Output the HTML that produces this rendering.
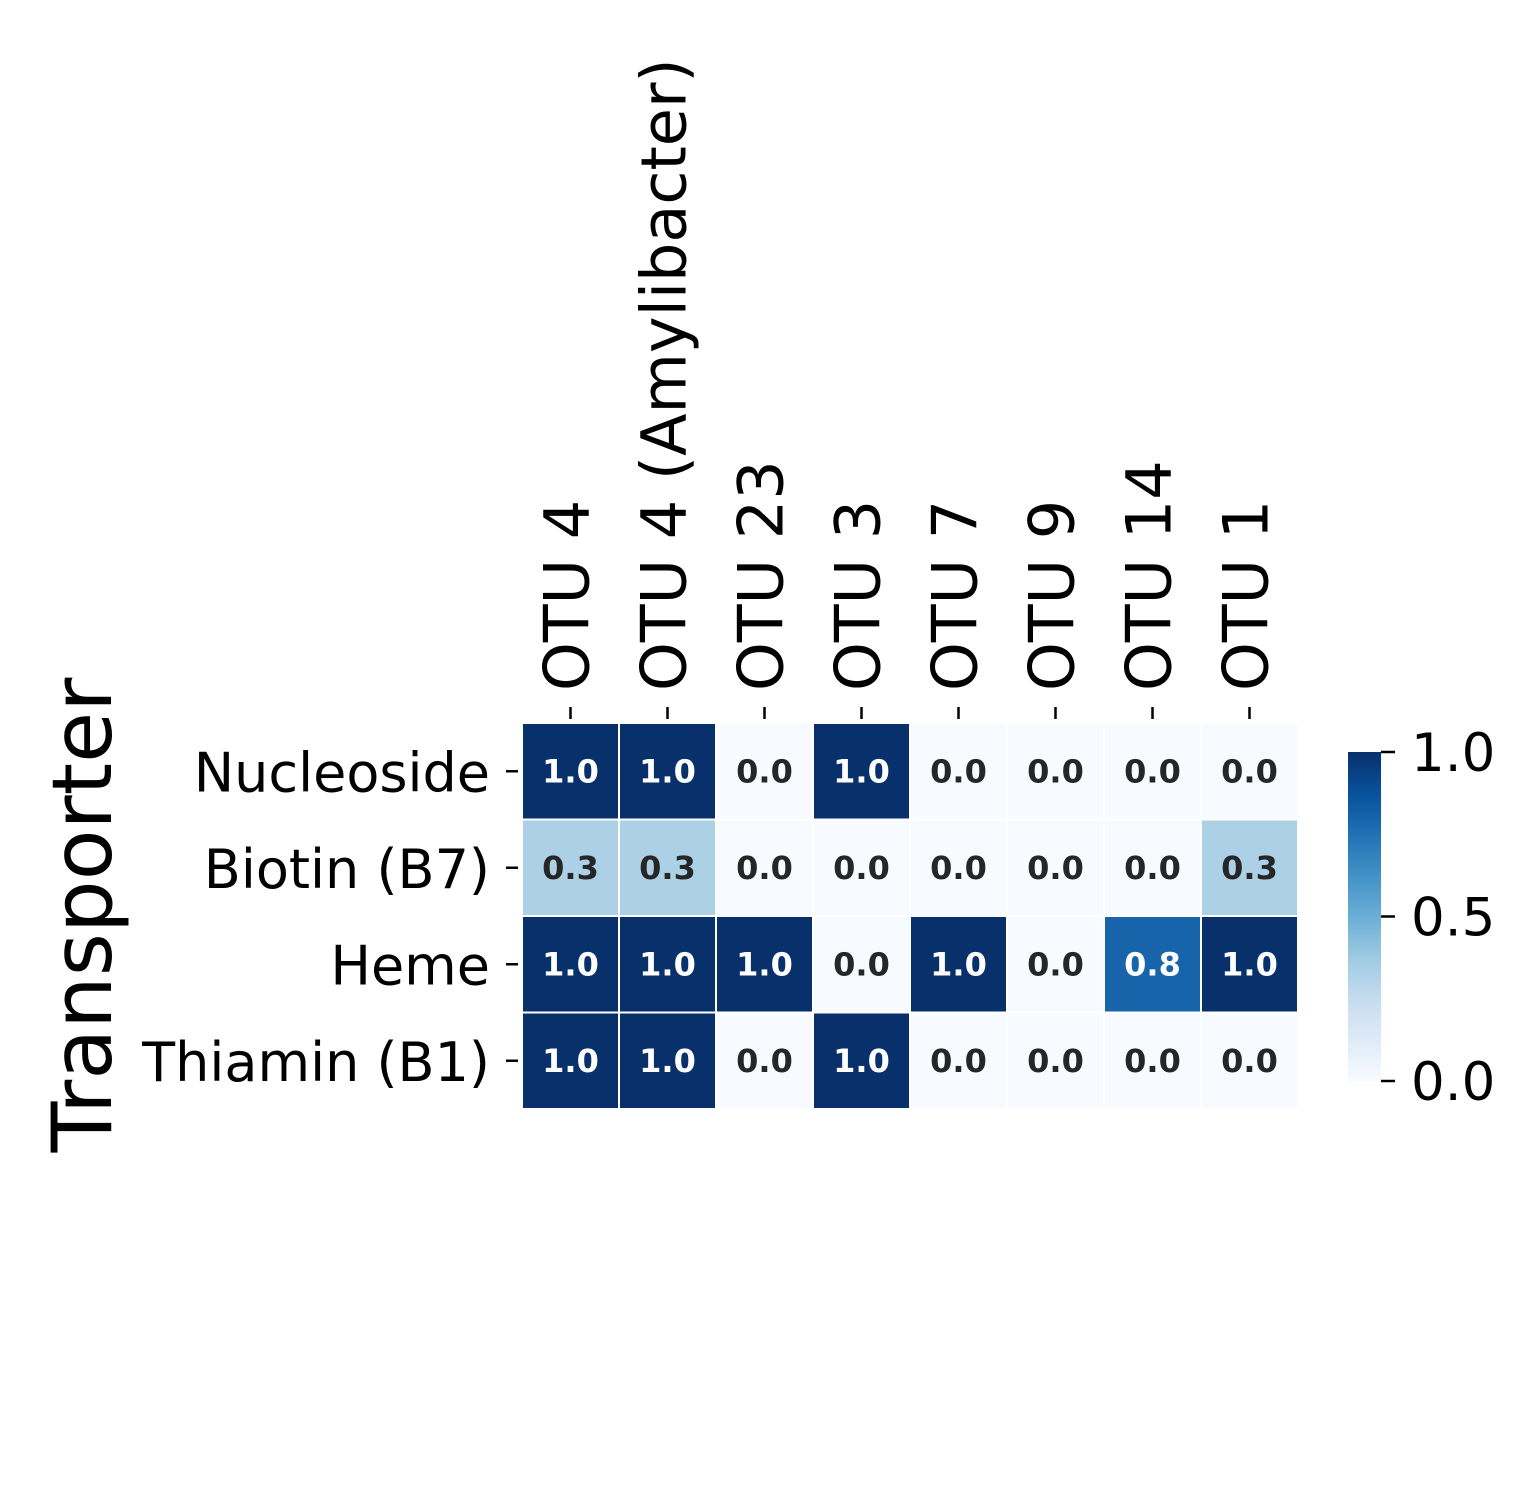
<!DOCTYPE html>
<html><head><meta charset="utf-8"><style>
body{margin:0;background:#fff}
svg{display:block;font-family:"DejaVu Sans","Liberation Sans",sans-serif}
</style></head><body>
<svg id="chart" width="1539" height="1509" viewBox="0 0 1539 1509" xmlns="http://www.w3.org/2000/svg">
<defs><linearGradient id="cbg" x1="0" y1="1" x2="0" y2="0">
<stop offset="0" stop-color="#f7fbff"/><stop offset="0.125" stop-color="#deebf7"/><stop offset="0.25" stop-color="#c6dbef"/><stop offset="0.375" stop-color="#9ecae1"/><stop offset="0.5" stop-color="#6baed6"/><stop offset="0.625" stop-color="#4292c6"/><stop offset="0.75" stop-color="#2171b5"/><stop offset="0.875" stop-color="#08519c"/><stop offset="1" stop-color="#08306b"/>
</linearGradient></defs>
<g id="cells"></g>
<text transform="translate(111,915) rotate(-90)" text-anchor="middle" font-size="83">Transporter</text>
<rect x="1348" y="752" width="33" height="329" fill="url(#cbg)"/>
<g id="cbticks"></g>
</svg>
<script>
const columns=["OTU 4","OTU 4 (Amylibacter)","OTU 23","OTU 3","OTU 7","OTU 9","OTU 14","OTU 1"];
const rows=["Nucleoside","Biotin (B7)","Heme","Thiamin (B1)"];
const valNucleoside=[1.0,1.0,0.0,1.0,0.0,0.0,0.0,0.0];
const valBiotin=[0.33,0.33,0.0,0.0,0.0,0.0,0.0,0.33];
const valHeme=[1.0,1.0,1.0,0.0,1.0,0.0,0.8,1.0];
const valThiamin=[1.0,1.0,0.0,1.0,0.0,0.0,0.0,0.0];
const cbTicks=[0.0,0.5,1.0];
const values=[valNucleoside,valBiotin,valHeme,valThiamin];
const NS="http://www.w3.org/2000/svg";
const x0=522,y0=723,cw=97,ch=96.5;
const xPos=i=>x0+i*cw, yPos=j=>y0+j*ch;
const stops=["#f7fbff","#deebf7","#c6dbef","#9ecae1","#6baed6","#4292c6","#2171b5","#08519c","#08306b"].map(h=>[1,3,5].map(k=>parseInt(h.substr(k,2),16)));
function color(v){v=Math.max(0,Math.min(1,v));const t=v*8,i=Math.min(7,Math.floor(t)),f=t-i;const c=stops[i].map((a,k)=>Math.round(a+(stops[i+1][k]-a)*f));return `rgb(${c})`;}
function mk(tag,attrs,parent){const e=document.createElementNS(NS,tag);for(const k in attrs)e.setAttribute(k,attrs[k]);parent.appendChild(e);return e;}
const g=document.getElementById('cells');
rows.forEach((r,j)=>{
  columns.forEach((c,i)=>{
    const v=values[j][i];
    const rc=mk('rect',{x:xPos(i)+1,y:yPos(j)+1,width:cw-2,height:ch-2,fill:color(v)},g);
    
    
    const t=mk('text',{x:xPos(i)+cw/2,y:yPos(j)+ch/2+11,'text-anchor':'middle','font-size':'32','font-weight':'bold',fill:v>0.6?'#ffffff':'#262626'},g);
    t.textContent=v.toFixed(1);
    
    
  });
  const tk=mk('line',{x1:x0-16,x2:x0-4,y1:yPos(j)+ch/2,y2:yPos(j)+ch/2,stroke:'#000','stroke-width':2.5},g);
  
  
  const lb=mk('text',{x:x0-32,y:yPos(j)+ch/2+20,'text-anchor':'end','font-size':'54'},g);
  lb.textContent=r;
  
  
});
columns.forEach((c,i)=>{
  const cx=xPos(i)+cw/2;
  const tk=mk('line',{x1:cx,x2:cx,y1:y0-16,y2:y0-4,stroke:'#000','stroke-width':2.5},g);
  
  
  const lb=mk('text',{x:0,y:0,'font-size':'62',transform:`translate(${cx+18},${y0-32}) rotate(-90)`},g);
  lb.textContent=c;
  
  
});
const cbt=document.getElementById('cbticks');
cbTicks.forEach(v=>{
  const y=1081-v*329;
  const l=mk('line',{x1:1381,x2:1395,y1:y,y2:y,stroke:'#000','stroke-width':2.5},cbt);
  
  
  const t=mk('text',{x:1411,y:y+19,'font-size':'53'},cbt);
  t.textContent=v.toFixed(1);
  
  
});
</script>
</body></html>
